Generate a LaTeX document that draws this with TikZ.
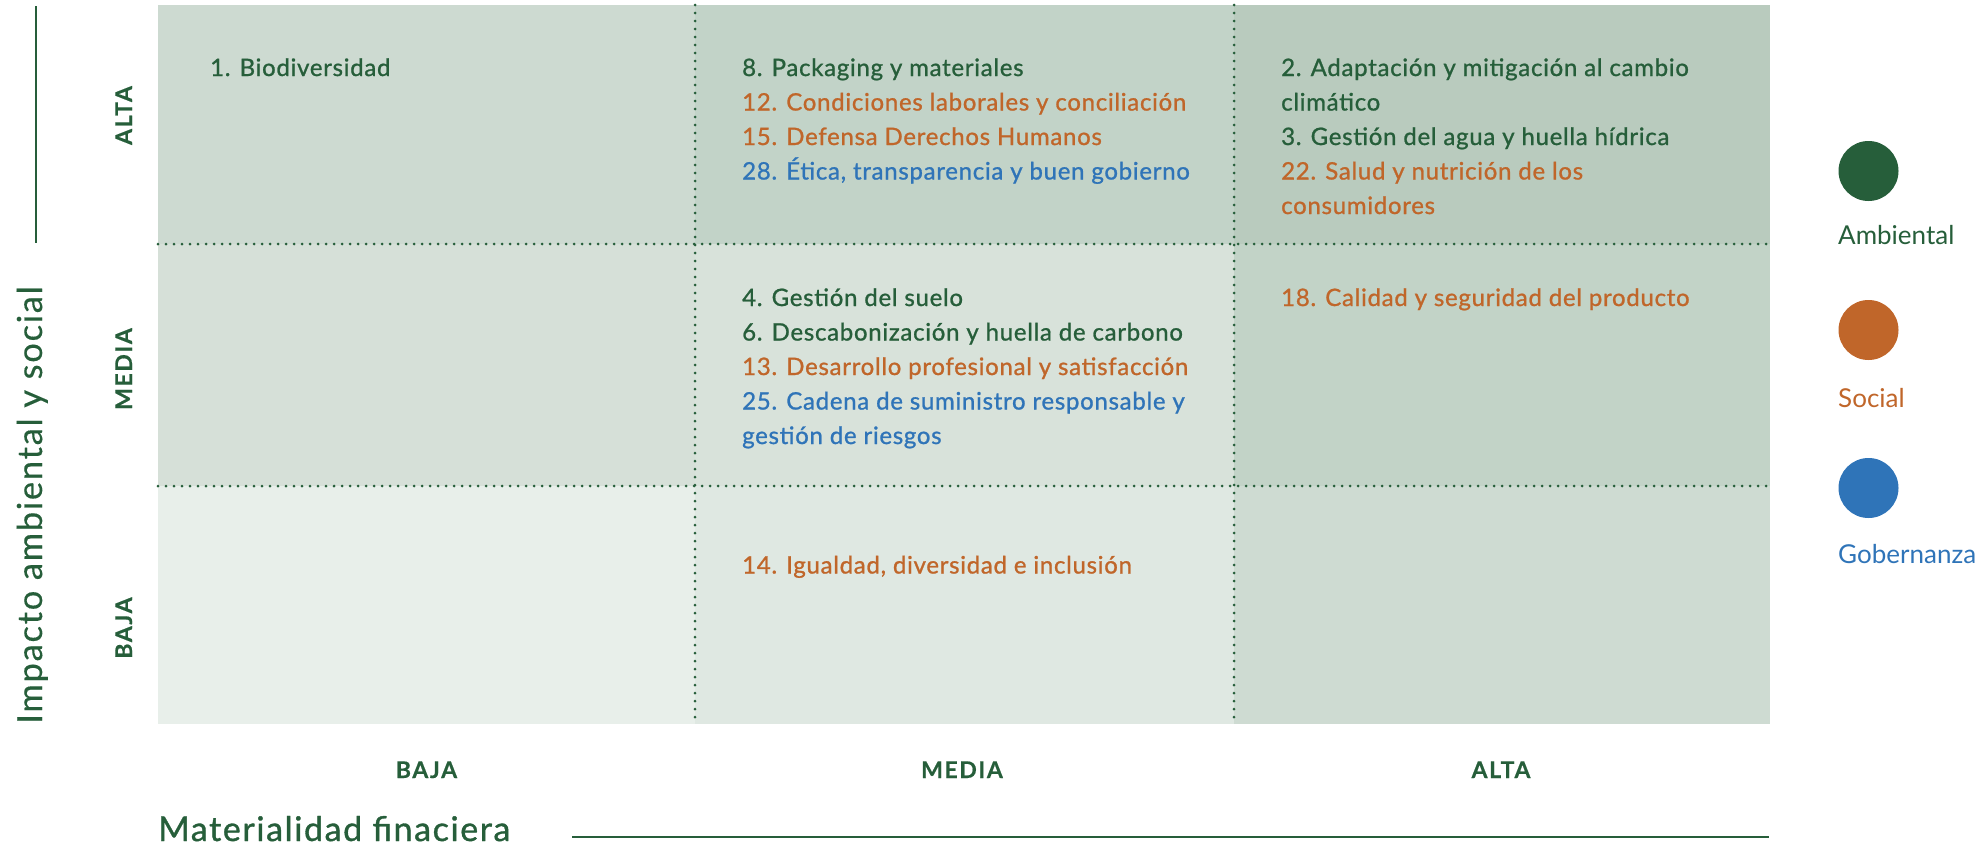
\documentclass[tikz,border=0pt]{standalone}
\usepackage{fontspec}
\setmainfont{Lato}
\newfontfamily\medfont{Lato}[FakeBold=1,LetterSpace=3]
\newfontfamily\titfont{Lato}[FakeBold=0.3,LetterSpace=5]
\newfontfamily\titmfont{Lato}[FakeBold=1,LetterSpace=4.7]
\newfontfamily\capfont{Lato}[LetterSpace=7,FakeBold=0.5]
\definecolor{grn}{HTML}{265E3A}
\definecolor{org}{HTML}{C0662A}
\definecolor{blu}{HTML}{2F74B8}
\definecolor{cA}{HTML}{CDDAD1}
\definecolor{cB}{HTML}{C2D3C8}
\definecolor{cC}{HTML}{B9CBBE}
\definecolor{cD}{HTML}{D6E0D8}
\definecolor{cE}{HTML}{D8E2DA}
\definecolor{cF}{HTML}{C2D3C7}
\definecolor{cG}{HTML}{E8EFEA}
\definecolor{cH}{HTML}{DFE8E2}
\definecolor{cI}{HTML}{CEDBD2}
\tikzset{
  itm/.style={anchor=base west, inner sep=0pt, font=\medfont\fontsize{24bp}{34.5bp}\selectfont},
  ig/.style={itm, text=grn},
  io/.style={itm, text=org},
  ib/.style={itm, text=blu},
  rowlab/.style={anchor=base, inner sep=0pt, rotate=90, text=grn, font=\capfont\bfseries\fontsize{23bp}{26bp}\selectfont},
  collab/.style={anchor=base, inner sep=0pt, text=grn, font=\capfont\bfseries\fontsize{23bp}{26bp}\selectfont},
  dotline/.style={grn, line width=3bp, line cap=round, dash pattern=on 0bp off 8bp},
  axisline/.style={grn, line width=2bp},
  legdot/.style={circle, minimum size=60bp, inner sep=0pt},
  leglab/.style={anchor=base west, inner sep=0pt, font=\fontsize{26bp}{30bp}\selectfont},
}
\begin{document}
\begin{tikzpicture}[x=1bp,y=-1bp]
\useasboundingbox (0,0) rectangle (1980,846);
% cells
\fill[cA] (158,5) rectangle (695,244);
\fill[cB] (695,5) rectangle (1234,244);
\fill[cC] (1234,5) rectangle (1770,244);
\fill[cD] (158,244) rectangle (695,486);
\fill[cE] (695,244) rectangle (1234,486);
\fill[cF] (1234,244) rectangle (1770,486);
\fill[cG] (158,486) rectangle (695,724);
\fill[cH] (695,486) rectangle (1234,724);
\fill[cI] (1234,486) rectangle (1770,724);
% dotted grid lines
\draw[dotline] (158,244) -- (1770,244);
\draw[dotline] (158,486) -- (1770,486);
\draw[dotline] (695,5) -- (695,724);
\draw[dotline] (1234,5) -- (1234,724);
% axis titles and lines
\coordinate (vtop) at (36,6);
\coordinate (vbot) at (36,243);
\draw[axisline] (vtop) -- (vbot);
\node[anchor=base, inner sep=0pt, rotate=90, text=grn, font=\titfont\fontsize{34.5bp}{36bp}\selectfont] (ytitle) at (42,505) {Impacto ambiental y social};
\node[anchor=base west, inner sep=0pt, text=grn, font=\titmfont\fontsize{34bp}{36bp}\selectfont] (xtitle) at (158,841) {Materialidad finaciera};
\coordinate (hl) at (572,837);
\coordinate (hr) at (1769,837);
\draw[axisline] (hl) -- (hr);
% row labels
\node[rowlab] (rAlta) at (132,115.5) {ALTA};
\node[rowlab] (rMedia) at (132,369) {MEDIA};
\node[rowlab] (rBaja) at (132,628) {BAJA};
% column labels
\node[collab] (cBaja) at (426.5,778) {BAJA};
\node[collab] (cMedia) at (962,778) {MEDIA};
\node[collab] (cAlta) at (1501,778) {ALTA};
% top row
\node[ig] (t1) at (210,76) {1. Biodiversidad};
\node[ig] (t8) at (742,76) {8. Packaging y materiales};
\node[io] (t12) at (742,110.5) {12. Condiciones laborales y conciliación};
\node[io] (t15) at (742,145) {15. Defensa Derechos Humanos};
\node[ib] (t28) at (742,179.5) {28. Ética, transparencia y buen gobierno};
\node[ig] (t2a) at (1281,76) {2. Adaptación y mitigación al cambio};
\node[ig] (t2b) at (1281,110.5) {climático};
\node[ig] (t3) at (1281,145) {3. Gestión del agua y huella hídrica};
\node[io] (t22a) at (1281,179.5) {22. Salud y nutrición de los};
\node[io] (t22b) at (1281,214) {consumidores};
% middle row
\node[ig] (m4) at (742,306) {4. Gestión del suelo};
\node[ig] (m6) at (742,340.5) {6. Descabonización y huella de carbono};
\node[io] (m13) at (742,375) {13. Desarrollo profesional y satisfacción};
\node[ib] (m25a) at (742,409.5) {25. Cadena de suministro responsable y};
\node[ib] (m25b) at (742,444) {gestión de riesgos};
\node[io] (m18) at (1281,306) {18. Calidad y seguridad del producto};
% bottom row
\node[io] (b14) at (742,573.5) {14. Igualdad, diversidad e inclusión};
% legend
\node[legdot, fill=grn] (dAmb) at (1868.5,171) {};
\node[legdot, fill=org] (dSoc) at (1868.5,330) {};
\node[legdot, fill=blu] (dGob) at (1868.5,488) {};
\node[leglab, text=grn] (lAmb) at (1838,244) {Ambiental};
\node[leglab, text=org] (lSoc) at (1838,407) {Social};
\node[leglab, text=blu] (lGob) at (1838,563) {Gobernanza};
\end{tikzpicture}
\end{document}
